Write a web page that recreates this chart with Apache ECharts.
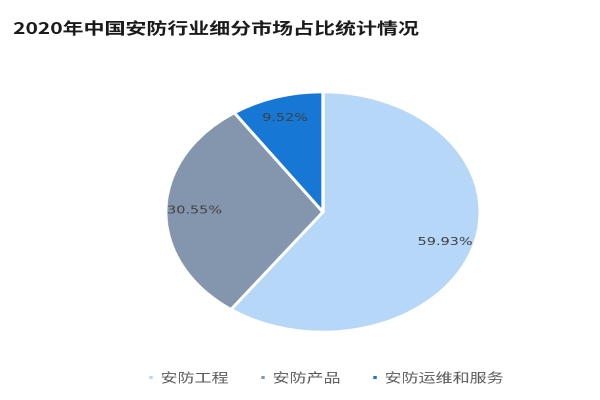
<!DOCTYPE html>
<html>
<head>
<meta charset="utf-8">
<script src="https://cdn.jsdelivr.net/npm/echarts@6/dist/echarts.min.js"></script>
<style>
html,body{margin:0;padding:0;background:#fff;overflow:hidden;width:600px;height:400px;}
#c{width:458px;height:400px;transform:scaleX(1.31);transform-origin:0 0;}
</style>
</head>
<body>
<div id="c"></div>
<script>
const titleText = '2020年中国安防行业细分市场占比统计情况';
const categories = ['安防工程', '安防产品', '安防运维和服务'];
const values = [59.93, 30.55, 9.52];
const colors = ['#b6d7f7', '#8496ad', '#1677d4'];

const data = categories.map((n, i) => ({ name: n, value: values[i], itemStyle: { color: colors[i] } }));
const chart = echarts.init(document.getElementById('c'), null, { renderer: 'canvas', devicePixelRatio: 2 });
chart.setOption({
  animation: false,
  title: {
    text: titleText,
    left: 5, top: 15,
    textStyle: { fontSize: 16, fontWeight: 'bold', color: '#1a1a1a', fontFamily: '"Noto Sans CJK SC", sans-serif' }
  },
  legend: {
    data: categories,
    left: 107, top: 366,
    itemWidth: 4.5, itemHeight: 5, itemGap: 23,
    icon: 'rect',
    textStyle: { fontSize: 13, color: '#595959', fontFamily: '"Noto Sans CJK SC", sans-serif' }
  },
  series: [
    {
      type: 'pie',
      center: [246.5, 212],
      radius: [0, 120],
      startAngle: 90,
      clockwise: true,
      data: data,
      label: { show: false },
      labelLine: { show: false },
      itemStyle: { borderColor: '#ffffff', borderWidth: 2.5 }
    },
    {
      type: 'pie',
      silent: true,
      center: [246.5, 212],
      radius: [70, 120],
      startAngle: 90,
      clockwise: true,
      data: categories.map((n, i) => ({ name: n, value: values[i] })),
      itemStyle: { color: 'rgba(0,0,0,0)' },
      label: {
        show: true, position: 'inside',
        formatter: p => p.value.toFixed(2) + '%',
        fontSize: 11, color: '#404040',
        fontFamily: '"DejaVu Sans", sans-serif'
      },
      labelLine: { show: false },
      legendHoverLink: false
    }
  ]
});
</script>
</body>
</html>
